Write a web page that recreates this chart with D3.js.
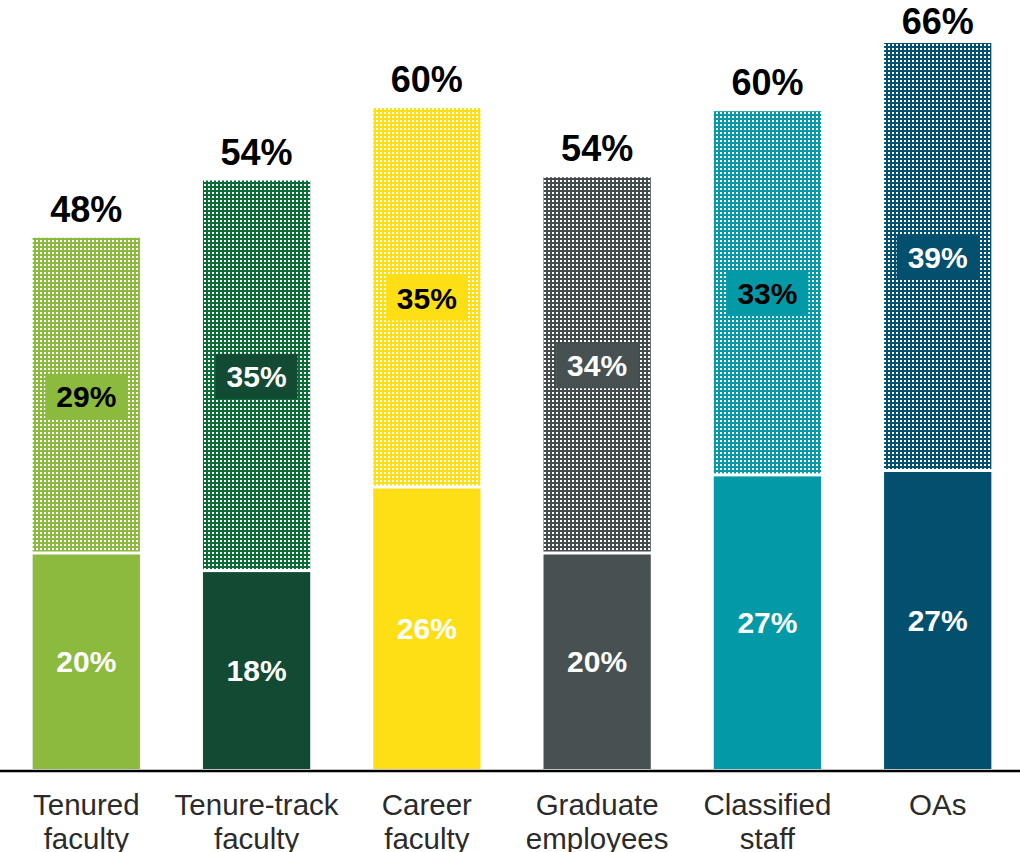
<!DOCTYPE html>
<html>
<head>
<meta charset="utf-8">
<script src="https://cdn.jsdelivr.net/npm/d3@7"></script>
<style>
  body { margin: 0; background: #fff; }
  svg { display: block; font-family: "Liberation Sans", Arial, sans-serif; }
</style>
</head>
<body>
<div class="chart"></div>
<script>
// categories, one entry per bar (lines of the axis label)
const categories = [
  ["Tenured", "faculty"],
  ["Tenure-track", "faculty"],
  ["Career", "faculty"],
  ["Graduate", "employees"],
  ["Classified", "staff"],
  ["OAs"]
];
// lower (solid) and upper (dotted) segment values, in percent
const solidValues = [19.5, 17.9, 25.5, 19.5, 26.6, 27.0];
const dottedValues = [28.8, 35.6, 34.6, 34.3, 33.2, 39.0];
// printed labels
const solidLabels = ["20%", "18%", "26%", "20%", "27%", "27%"];
const dottedLabels = ["29%", "35%", "35%", "34%", "33%", "39%"];
const totalLabels = ["48%", "54%", "60%", "54%", "60%", "66%"];

const solidColors = ["#8bba3f", "#124a34", "#fedf16", "#475152", "#0399a7", "#02506e"];
const dottedColors = ["#8bba3f", "#0a6d36", "#fedf16", "#434b4c", "#0399a7", "#02506e"];
const dottedText = ["#000", "#fff", "#000", "#fff", "#000", "#fff"];

const width = 1020,
  height = 852,
  baseY = 769;

const svg = d3
  .select(".chart")
  .append("svg")
  .attr("width", width)
  .attr("height", height);

// dotted fills
const defs = svg.append("defs");
dottedColors.forEach((c, i) => {
  const p = defs
    .append("pattern")
    .attr("id", "dots" + i)
    .attr("patternUnits", "userSpaceOnUse")
    .attr("width", 4)
    .attr("height", 4);
  p.append("rect").attr("width", 4).attr("height", 4).attr("fill", c);
  p.append("rect").attr("width", 2).attr("height", 2).attr("fill", "#fff");
});

const x = d3
  .scaleBand()
  .domain(d3.range(categories.length))
  .range([2, 1022])
  .paddingInner(0.37)
  .paddingOuter(0.18);

const y = d3
  .scaleLinear()
  .domain([0, baseY / 11])
  .range([baseY, 0]);

const bars = svg
  .selectAll(".bar")
  .data(categories)
  .enter()
  .append("g")
  .attr("class", "bar");

// lower solid segment
bars
  .append("rect")
  .attr("x", (d, i) => x(i))
  .attr("width", x.bandwidth())
  .attr("y", (d, i) => y(solidValues[i]))
  .attr("height", (d, i) => y(0) - y(solidValues[i]))
  .attr("fill", (d, i) => solidColors[i]);

// upper dotted segment, small white gap above the solid one
bars
  .append("rect")
  .attr("x", (d, i) => x(i))
  .attr("width", x.bandwidth())
  .attr("y", (d, i) => y(solidValues[i] + dottedValues[i]))
  .attr("height", (d, i) => y(solidValues[i]) - y(solidValues[i] + dottedValues[i]) - 3)
  .attr("fill", (d, i) => "url(#dots" + i + ")");

// solid segment labels
bars
  .append("text")
  .attr("x", (d, i) => x(i) + x.bandwidth() / 2)
  .attr("y", (d, i) => (y(0) + y(solidValues[i])) / 2)
  .attr("dy", "0.35em")
  .attr("text-anchor", "middle")
  .attr("font-size", 30)
  .attr("font-weight", "bold")
  .attr("fill", "#fff")
  .text((d, i) => solidLabels[i]);

// dotted segment labels with a solid box behind
bars.each(function (d, i) {
  const g = d3.select(this);
  const cx = x(i) + x.bandwidth() / 2;
  const cy = (y(solidValues[i]) + y(solidValues[i] + dottedValues[i])) / 2;
  const box = g.append("rect").attr("fill", solidColors[i]);
  const t = g
    .append("text")
    .attr("x", cx)
    .attr("y", cy)
    .attr("dy", "0.35em")
    .attr("text-anchor", "middle")
    .attr("font-size", 30)
    .attr("font-weight", "bold")
    .attr("fill", dottedText[i])
    .text(dottedLabels[i]);
  const bb = t.node().getBBox();
  box
    .attr("x", cx - bb.width / 2 - 11)
    .attr("y", cy - 22.5)
    .attr("width", bb.width + 22)
    .attr("height", 45);
});

// totals above the bars
bars
  .append("text")
  .attr("x", (d, i) => x(i) + x.bandwidth() / 2)
  .attr("y", (d, i) => Math.max(y(solidValues[i] + dottedValues[i]) - 16, 34))
  .attr("text-anchor", "middle")
  .attr("font-size", 36)
  .attr("font-weight", "bold")
  .attr("fill", "#000")
  .text((d, i) => totalLabels[i]);

// base line
svg
  .append("line")
  .attr("x1", 0)
  .attr("x2", width)
  .attr("y1", baseY + 2)
  .attr("y2", baseY + 2)
  .attr("stroke", "#000")
  .attr("stroke-width", 2.5);

// category labels
const cat = svg
  .selectAll(".cat")
  .data(categories)
  .enter()
  .append("text")
  .attr("class", "cat")
  .attr("text-anchor", "middle")
  .attr("font-size", 29.5)
  .attr("fill", "#2b2b2b");

cat
  .selectAll("tspan")
  .data((d, i) => d.map(line => ({ line, i })))
  .enter()
  .append("tspan")
  .attr("x", d => x(d.i) + x.bandwidth() / 2)
  .attr("y", (d, j) => 815 + j * 34)
  .text(d => d.line);
</script>
</body>
</html>
